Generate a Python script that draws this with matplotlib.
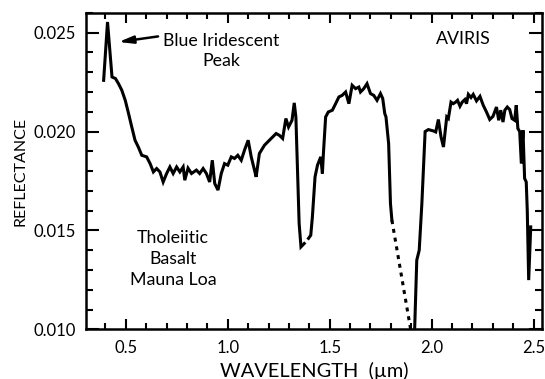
import matplotlib
matplotlib.use("Agg")
import matplotlib.pyplot as plt
from matplotlib.ticker import MultipleLocator, FormatStrFormatter

# Segment 1 (0.39 - 1.375 um)
wl1 = [0.391, 0.410, 0.432, 0.449, 0.464, 0.480, 0.497, 0.513, 0.529, 0.545, 0.561, 0.578,
       0.602, 0.619, 0.635, 0.651, 0.667, 0.683, 0.700, 0.716, 0.732, 0.749, 0.765, 0.781,
       0.789, 0.805, 0.822, 0.846, 0.862, 0.879, 0.895, 0.911, 0.924, 0.936, 0.952, 0.968,
       0.984, 1.000, 1.017, 1.033, 1.049, 1.066, 1.082, 1.100, 1.115, 1.131, 1.139, 1.155,
       1.180, 1.204, 1.237, 1.253, 1.269, 1.285, 1.298, 1.315, 1.326, 1.334, 1.342, 1.350,
       1.359, 1.375]
refl1 = [0.02259, 0.02554, 0.02276, 0.02268, 0.02242, 0.02209, 0.02158, 0.02092, 0.02023,
         0.01956, 0.01922, 0.01880, 0.01872, 0.01838, 0.01796, 0.01813, 0.01796, 0.01745,
         0.01788, 0.01821, 0.01788, 0.01821, 0.01796, 0.01821, 0.01754, 0.01815, 0.01788,
         0.01805, 0.01788, 0.01813, 0.01788, 0.01745, 0.01855, 0.01737, 0.01704, 0.01788,
         0.01838, 0.01830, 0.01872, 0.01864, 0.01880, 0.01855, 0.01906, 0.01956, 0.01872,
         0.01805, 0.01771, 0.01889, 0.01931, 0.01956, 0.01990, 0.01981, 0.01965, 0.02066,
         0.02023, 0.02057, 0.02145, 0.02074, 0.01805, 0.01535, 0.01417, 0.01434]

# Segment 2 (1.396 - 1.805 um)
wl2 = [1.396, 1.407, 1.415, 1.428, 1.440, 1.456, 1.464, 1.469, 1.480, 1.493, 1.513, 1.529,
       1.545, 1.561, 1.578, 1.594, 1.610, 1.627, 1.643, 1.651, 1.667, 1.683, 1.700, 1.716,
       1.732, 1.749, 1.760, 1.770, 1.776, 1.789, 1.798, 1.805]
refl2 = [0.01460, 0.01476, 0.01569, 0.01771, 0.01830, 0.01872, 0.01788, 0.01889, 0.02074,
         0.02099, 0.02108, 0.02141, 0.02175, 0.02183, 0.02200, 0.02141, 0.02234, 0.02217,
         0.02225, 0.02200, 0.02217, 0.02242, 0.02192, 0.02183, 0.02158, 0.02192, 0.02167,
         0.02091, 0.02074, 0.01939, 0.01636, 0.01552]

# Dotted interpolation across the water band
wl_gap = [1.805, 1.897]
refl_gap = [0.01552, 0.0100]

# Segment 3 (1.916 - 2.486 um)
wl3 = [1.916, 1.927, 1.939, 1.952, 1.968, 1.984, 2.009, 2.020, 2.033, 2.046, 2.058, 2.074,
       2.082, 2.095, 2.106, 2.118, 2.127, 2.139, 2.150, 2.163, 2.171, 2.180, 2.193, 2.204,
       2.220, 2.237, 2.253, 2.269, 2.285, 2.301, 2.318, 2.329, 2.339, 2.350, 2.359, 2.371,
       2.383, 2.394, 2.407, 2.415, 2.423, 2.432, 2.440, 2.448, 2.456, 2.464, 2.469, 2.476,
       2.486]
refl3 = [0.0098, 0.01350, 0.01400, 0.01636, 0.02000, 0.02010, 0.02003, 0.01998, 0.02061,
         0.01973, 0.01922, 0.02074, 0.02066, 0.02149, 0.02141, 0.02149, 0.02158, 0.02128,
         0.02149, 0.02162, 0.02141, 0.02188, 0.02172, 0.02188, 0.02155, 0.02178, 0.02133,
         0.02099, 0.02061, 0.02077, 0.02124, 0.02057, 0.02108, 0.02048, 0.02108, 0.02124,
         0.02111, 0.02066, 0.02057, 0.02133, 0.02015, 0.02000, 0.01838, 0.02007, 0.01763,
         0.01745, 0.01603, 0.01249, 0.01518]

xticks = [0.5, 1.0, 1.5, 2.0, 2.5]
yticks = [0.010, 0.015, 0.020, 0.025]

FONT = "Lato"

fig = plt.figure(figsize=(5.45, 3.79), dpi=100)
ax = fig.add_axes([0.158, 0.131, 0.836, 0.835])

lw = 2.2
ax.plot(wl1, refl1, color="black", lw=lw, solid_joinstyle="miter")
ax.plot(wl2, refl2, color="black", lw=lw, solid_joinstyle="miter")
ax.plot(wl_gap, refl_gap, color="black", lw=2.2, linestyle=(0, (1.3, 1.6)))
ax.plot(wl3, refl3, color="black", lw=lw, solid_joinstyle="miter")

ax.set_xlim(0.305, 2.54)
ax.set_ylim(0.010, 0.026)
ax.set_xticks(xticks)
ax.set_yticks(yticks)
ax.xaxis.set_minor_locator(MultipleLocator(0.1))
ax.yaxis.set_minor_locator(MultipleLocator(0.001))
ax.xaxis.set_major_formatter(FormatStrFormatter("%.1f"))
ax.yaxis.set_major_formatter(FormatStrFormatter("%.3f"))

for s in ax.spines.values():
    s.set_linewidth(1.8)

ax.tick_params(axis="both", which="both", direction="in", top=True, right=True, width=1.5)
ax.tick_params(axis="x", which="major", length=7, pad=8)
ax.tick_params(axis="x", which="minor", length=4.3)
ax.tick_params(axis="y", which="major", length=9.4, pad=7.5)
ax.tick_params(axis="y", which="minor", length=5)
for lab in ax.get_xticklabels() + ax.get_yticklabels():
    lab.set_fontfamily(FONT)
    lab.set_fontsize(12)

ax.set_xlabel("WAVELENGTH  (µm)", fontfamily=FONT, fontsize=14.4, labelpad=4)
ax.set_ylabel("REFLECTANCE", fontfamily=["Liberation Sans Narrow", FONT], fontsize=11.5,
              labelpad=4)

ax.text(0.970, 0.02406, "Blue Iridescent\nPeak", ha="center", va="center",
        fontfamily=FONT, fontsize=12.8, linespacing=1.3)
ax.annotate("", xy=(0.464, 0.02453), xytext=(0.658, 0.02481),
            arrowprops=dict(arrowstyle="-|>,head_length=0.85,head_width=0.22",
                            color="black", lw=1.8, shrinkA=0, shrinkB=0))
ax.text(2.153, 0.02466, "AVIRIS", ha="center", va="center",
        fontfamily=FONT, fontsize=12.8)
ax.text(0.732, 0.01355, "Tholeiitic\nBasalt\nMauna Loa", ha="center", va="center",
        fontfamily=FONT, fontsize=12.8, linespacing=1.38)

fig.savefig("out.png", dpi=100)
